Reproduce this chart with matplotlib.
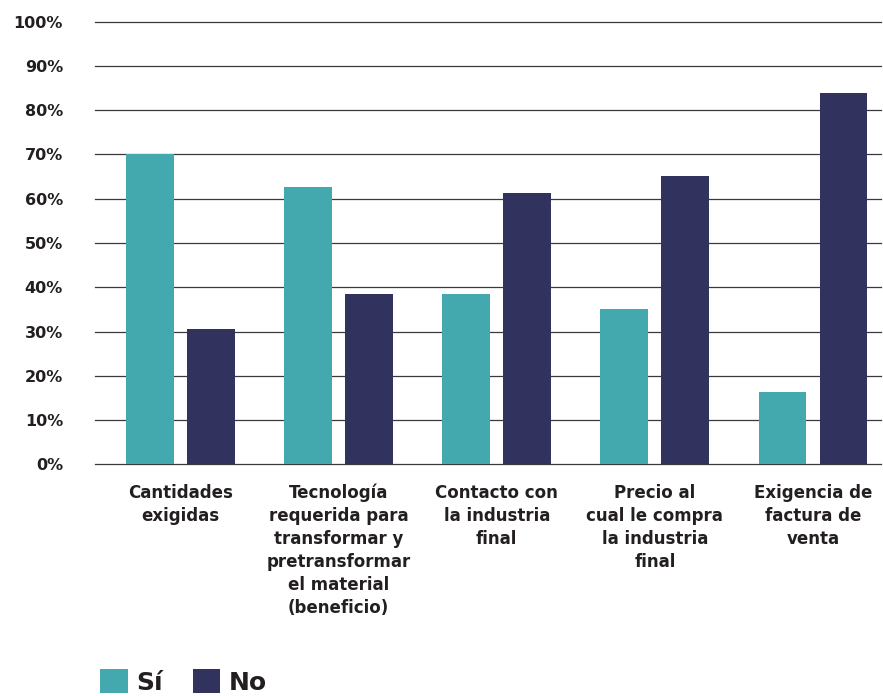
import numpy as np
import matplotlib.pyplot as plt

# Data
categories = [
    "Cantidades\nexigidas",
    "Tecnología\nrequerida para\ntransformar y\npretransformar\nel material\n(beneficio)",
    "Contacto con\nla industria\nfinal",
    "Precio al\ncual le compra\nla industria\nfinal",
    "Exigencia de\nfactura de\nventa",
]
si_values = [70.0, 62.6, 38.5, 35.1, 16.3]
no_values = [30.6, 38.5, 61.3, 65.1, 83.9]
y_ticks = list(range(0, 101, 10))
y_labels = [f"{t}%" for t in y_ticks]

teal = '#44A9AF'
navy = '#31325D'
text_color = '#231F20'

plt.rcParams['font.family'] = ['DejaVu Sans']

fig = plt.figure(figsize=(8.83, 6.96), dpi=100)
ax = fig.add_axes([95 / 883, 1 - 464.3 / 696, 786 / 883, (464.3 - 21.7) / 696])

x = np.arange(len(categories))
width = 0.303
offset = 0.193
bars_si = ax.bar(x - offset, si_values, width, color=teal, zorder=3, label='Sí')
bars_no = ax.bar(x + offset, no_values, width, color=navy, zorder=3, label='No')

ax.set_xlim(-0.54, 4.43)
ax.set_ylim(0, 100)
ax.set_yticks(y_ticks)
ax.set_yticklabels(y_labels, fontsize=11.5, fontweight='bold', color=text_color)
ax.set_xticks(x)
ax.set_xticklabels(categories, fontsize=12, fontweight='bold', color=text_color,
                   linespacing=1.36)

for t in y_ticks:
    ax.axhline(t, color='#3a3a3a', lw=0.9, zorder=1, clip_on=False)

for s in ax.spines.values():
    s.set_visible(False)
ax.tick_params(axis='both', length=0)
ax.tick_params(axis='y', pad=23)
ax.tick_params(axis='x', pad=14)

fig.legend(handles=[bars_si, bars_no], labels=['Sí', 'No'], loc='lower left',
           bbox_to_anchor=(100 / 883, 0.002), ncol=2, frameon=False,
           prop={'size': 18, 'weight': 'bold'}, handlelength=1.1, handleheight=1.1,
           handletextpad=0.35, columnspacing=1.2, borderpad=0, borderaxespad=0,
           labelcolor=text_color)

fig.savefig('out.png', dpi=100)
